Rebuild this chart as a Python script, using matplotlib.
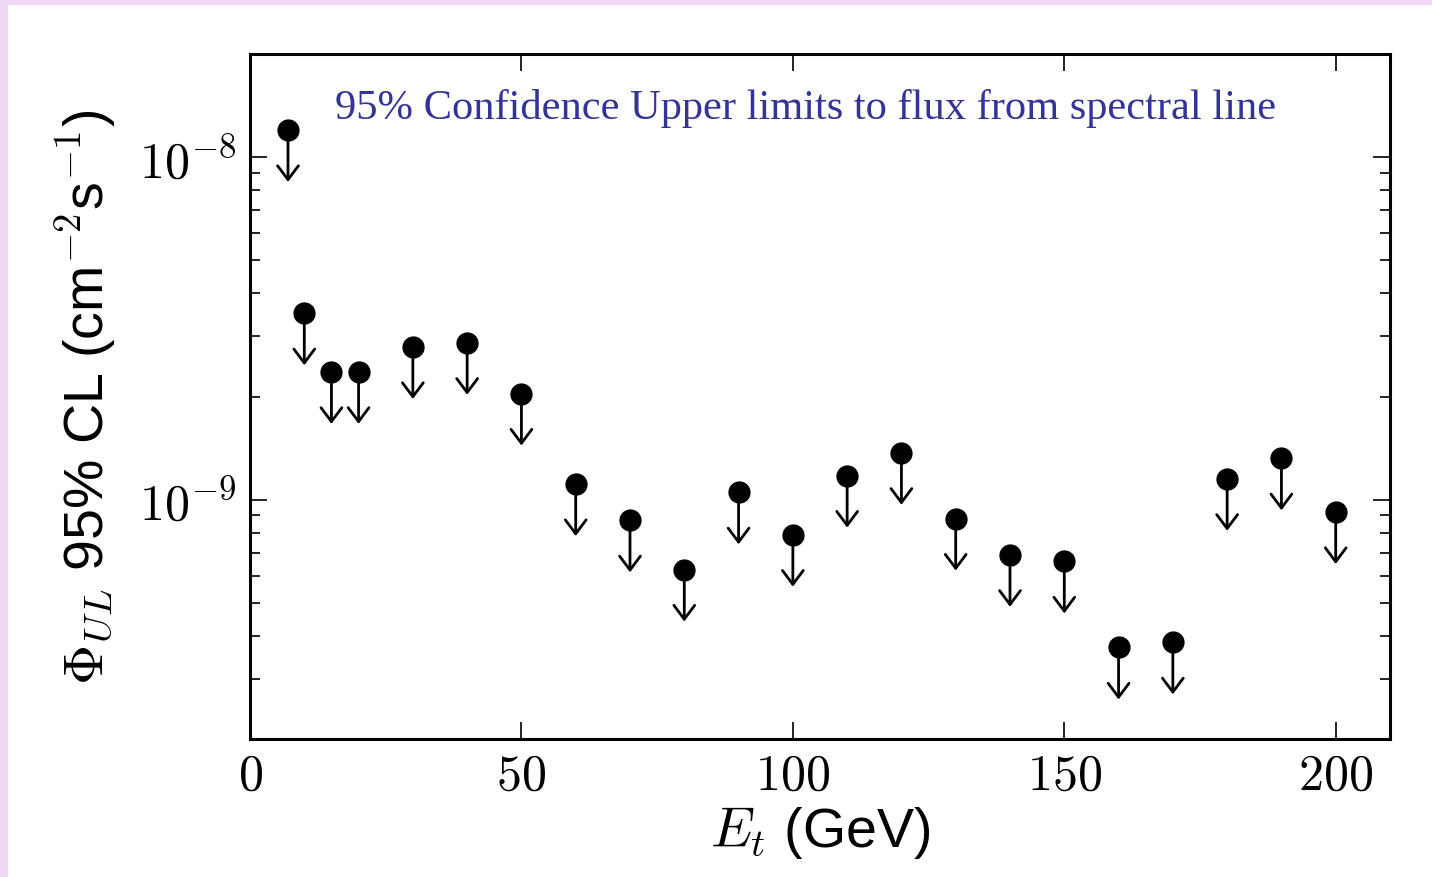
import matplotlib
matplotlib.use("Agg")
import matplotlib.pyplot as plt
import matplotlib.transforms as mtransforms
from matplotlib.patches import Rectangle
from matplotlib.ticker import NullFormatter

plt.rcParams['mathtext.fontset'] = 'cm'
plt.rcParams['font.family'] = ['Liberation Sans', 'DejaVu Sans']

# Upper-limit data
energy = [7, 10, 15, 20, 30, 40, 50, 60, 70, 80, 90, 100, 110, 120,
          130, 140, 150, 160, 170, 180, 190, 200]
flux_ul = [1.2e-8, 3.5e-9, 2.36e-9, 2.36e-9, 2.79e-9, 2.87e-9, 2.04e-9,
           1.11e-9, 8.7e-10, 6.25e-10, 1.05e-9, 7.9e-10, 1.175e-9, 1.37e-9,
           8.8e-10, 6.9e-10, 6.6e-10, 3.7e-10, 3.83e-10, 1.15e-9, 1.32e-9,
           9.2e-10]
xticks = [0, 50, 100, 150, 200]
yticks = [1e-9, 1e-8]
ytick_labels = [r'$10^{-9}$', r'$10^{-8}$']

fig = plt.figure(figsize=(14.32, 8.78), dpi=100)
# lavender strips along top and left edge, like the slide background
fig.patches.append(Rectangle((0, 0.994), 1, 0.006, transform=fig.transFigure,
                             color='#efd8f5', zorder=0))
fig.patches.append(Rectangle((0, 0), 0.005, 1, transform=fig.transFigure,
                             color='#efd8f5', zorder=0))

ax = fig.add_axes([250/1432, 138/878, 1140/1432, 685/878])
ax.set_yscale('log')
ax.set_xlim(0, 210)
ax.set_ylim(2e-10, 2e-8)

ax.plot(energy, flux_ul, 'o', color='black', markersize=15, zorder=3)
tip = mtransforms.offset_copy(ax.transData, fig=fig, x=0, y=-52, units='dots')
for e, f in zip(energy, flux_ul):
    ax.annotate('', xy=(e, f), xycoords=tip, xytext=(e, f), textcoords='data',
                arrowprops=dict(arrowstyle='->,head_length=0.4,head_width=0.3',
                                mutation_scale=25, lw=2.0, color='black',
                                shrinkA=0, shrinkB=0))

ax.text(0.0746, 0.9226, '95% Confidence Upper limits to flux from spectral line',
        transform=ax.transAxes, ha='left', va='center', color='#333399',
        fontsize=30.6, family='Liberation Serif')

for s in ax.spines.values():
    s.set_linewidth(2.2)
ax.tick_params(which='both', direction='in', top=True, right=True, labelsize=36,
               pad=10)
ax.tick_params(which='major', length=12, width=1.2)
ax.tick_params(which='minor', length=7, width=1.2)
ax.set_xticks(xticks)
ax.set_xticklabels(['$%d$' % t for t in xticks])
ax.set_yticks(yticks)
ax.set_yticklabels(ytick_labels)
ax.yaxis.set_minor_formatter(NullFormatter())

ax.set_xlabel('$E_t$ (GeV)', fontsize=40, labelpad=4)
ax.set_ylabel(r'$\Phi_{UL}$ 95% CL (cm$^{-2}$s$^{-1}$)', fontsize=40, labelpad=14)

fig.savefig('out.png', dpi=100)
